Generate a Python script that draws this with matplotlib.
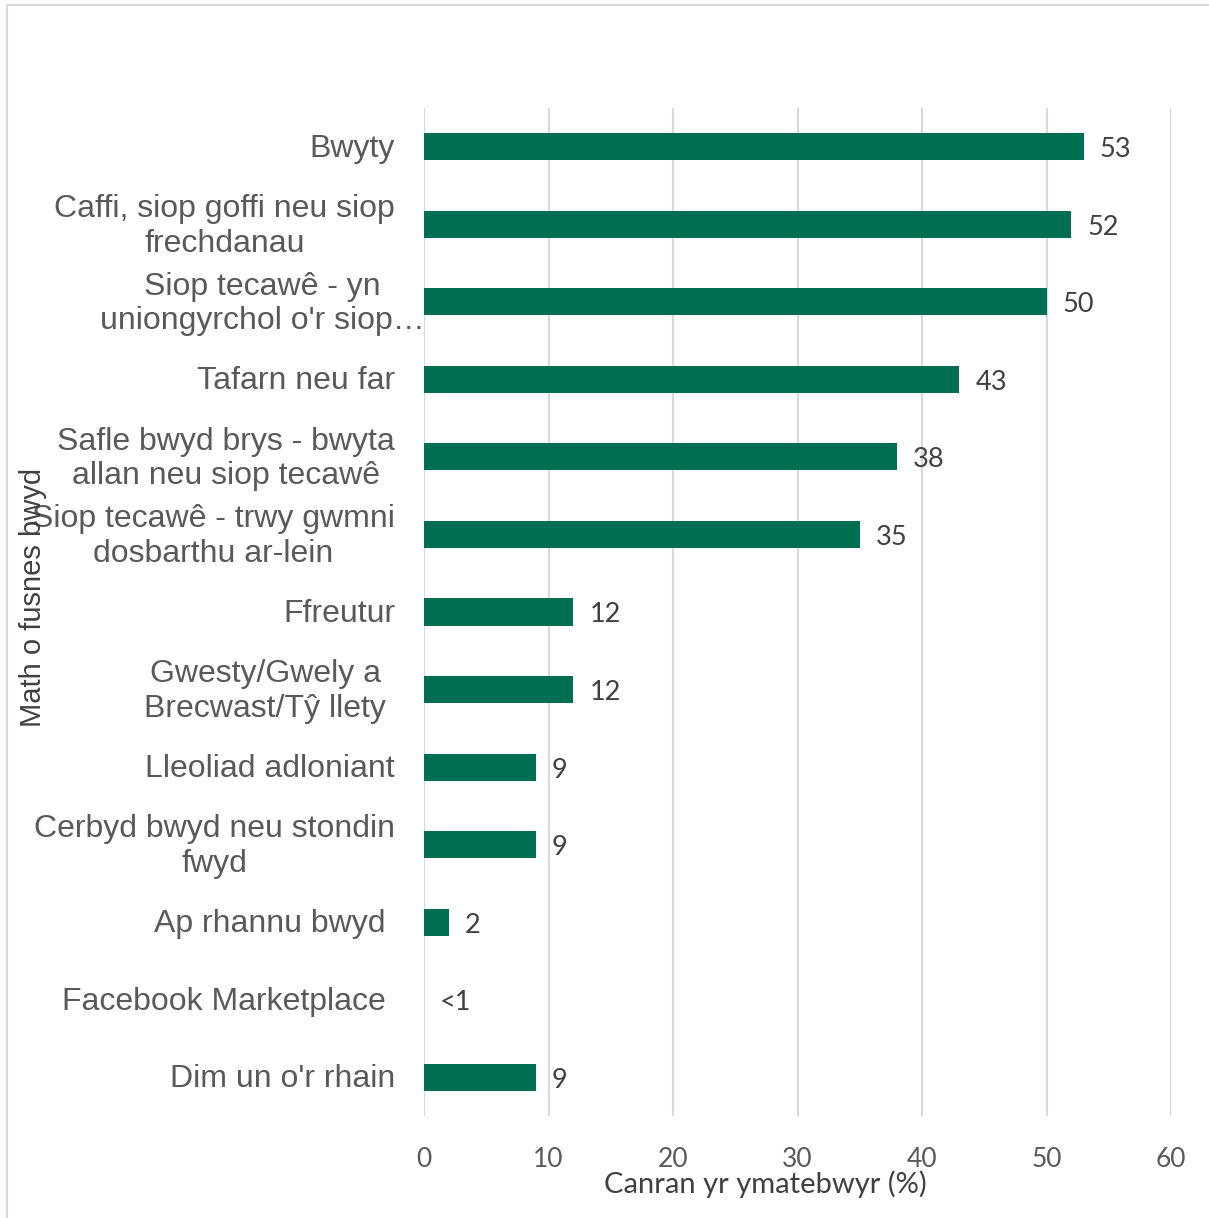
import matplotlib
matplotlib.use('Agg')
from matplotlib import pyplot as plt
from matplotlib.patches import Rectangle
import numpy as np

# data (top to bottom)
categories = [
    'Bwyty',
    'Caffi, siop goffi neu siop\nfrechdanau',
    'Siop tecawê - yn\nuniongyrchol o\'r siop…',
    'Tafarn neu far',
    'Safle bwyd brys - bwyta\nallan neu siop tecawê',
    'Siop tecawê - trwy gwmni\ndosbarthu ar-lein',
    'Ffreutur',
    'Gwesty/Gwely a\nBrecwast/Tŷ llety',
    'Lleoliad adloniant',
    'Cerbyd bwyd neu stondin\nfwyd',
    'Ap rhannu bwyd',
    'Facebook Marketplace',
    "Dim un o'r rhain",
]
values = [53, 52, 50, 43, 38, 35, 12, 12, 9, 9, 2, 0, 9]
value_labels = ['53', '52', '50', '43', '38', '35', '12', '12', '9', '9', '2', '<1', '9']
xticks = [0, 10, 20, 30, 40, 50, 60]

green = '#006e51'
label_grey = '#595959'

# excel puts a few labels a bit further left / the truncated one further right
label_shift = {2: 30, 7: -9, 10: -9, 11: -9}

W, H = 1209, 1218
fig = plt.figure(figsize=(W / 100, H / 100), dpi=100)
ax = fig.add_axes([424 / W, 1 - 1116 / H, (1171 - 424) / W, (1116 - 108) / H])

y = np.arange(len(categories))
ax.barh(y, values, height=0.35, color=green, zorder=3)
ax.set_ylim(len(categories) - 0.5, -0.5)
ax.set_xlim(0, 60)

ax.set_xticks(xticks)
ax.set_xticklabels([str(t) for t in xticks], fontsize=19, color=label_grey, family='Lato')
ax.tick_params(axis='x', length=0, pad=22)
ax.grid(axis='x', color='#d9d9d9', linewidth=1.5, zorder=0)

ax.set_yticks(y)
ax.set_yticklabels([])
ax.tick_params(axis='y', length=0)
for i, lab in enumerate(categories):
    off = -29 + label_shift.get(i, 0)
    ax.annotate(lab, xy=(0, i), xycoords=('axes fraction', 'data'),
                xytext=(off, -2), textcoords='offset pixels',
                ha='right', va='center', multialignment='center',
                fontsize=23, color=label_grey, family='Liberation Sans',
                linespacing=1.2, annotation_clip=False)

for i, (v, t) in enumerate(zip(values, value_labels)):
    ax.annotate(t, xy=(v, i), xytext=(16, -3), textcoords='offset pixels',
                ha='left', va='center', fontsize=19.5, color='#404040', family='Lato')

for s in ax.spines.values():
    s.set_visible(False)

fig.text(765 / W, 1 - 1184 / H, 'Canran yr ymatebwyr (%)', ha='center', va='center',
         fontsize=21, color='#404040', family='Lato')
fig.text(33 / W, 1 - 597 / H, 'Math o fusnes bwyd', ha='center', va='center',
         rotation=90, fontsize=21, color='#404040', family='Liberation Sans')

# outer chart border
fig.patches.append(Rectangle((7 / W, -0.01), 1.0, 1 - 5 / H + 0.01,
                             transform=fig.transFigure, fill=False,
                             edgecolor='#d9d9d9', linewidth=1.5))

plt.savefig('out.png', dpi=100)
